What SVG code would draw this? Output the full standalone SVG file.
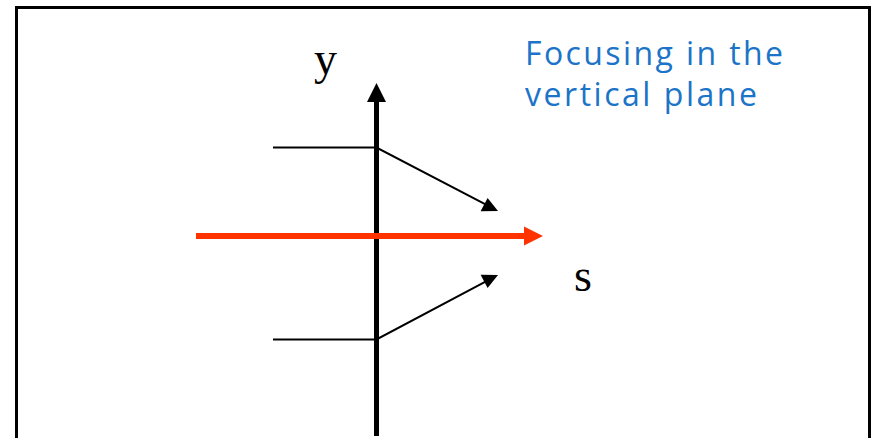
<svg xmlns="http://www.w3.org/2000/svg" width="876" height="438" viewBox="0 0 876 438">
<style>
.frame{fill:none;stroke:#000;stroke-width:3}
.ray{fill:none;stroke:#000;stroke-width:2}
.head{fill:#000}
.lbl{font-family:"Liberation Serif","Times New Roman",serif;font-size:46px;fill:#000}
.title{font-family:"Open Sans","DejaVu Sans",sans-serif;font-size:32px;fill:#1B74C8}
</style>
<rect class="frame" x="16.5" y="7.5" width="853" height="460"/>
<g id="connectors">
<line id="y-axis" x1="376.5" y1="436" x2="376.5" y2="100" stroke="#000" stroke-width="5"/>
<polygon class="head" points="376.5,83 386,102 367,102"/>
<line id="s-axis" x1="196" y1="236" x2="526" y2="236" stroke="#FF3300" stroke-width="6"/>
<polygon points="543,236 524,226.5 524,245.5" fill="#FF3300"/>
<path id="ray-upper" class="ray" d="M273,147.5 H376.5 L486,204.7"/>
<polygon class="head" points="498,211 480.6,211.3 487.6,197.9"/>
<path id="ray-lower" class="ray" d="M273,339.5 H376.5 L486,281.3"/>
<polygon class="head" points="498,275 487.6,288.1 480.6,274.7"/>
</g>
<g id="label-y"><text class="lbl" x="314" y="74">y</text></g>
<g id="label-s"><text class="lbl" x="574" y="291">s</text></g>
<g id="title">
<text class="title" x="525" y="65" textLength="258" lengthAdjust="spacing">Focusing in the</text>
<text class="title" x="525" y="106" textLength="232" lengthAdjust="spacing">vertical plane</text>
</g>
</svg>
